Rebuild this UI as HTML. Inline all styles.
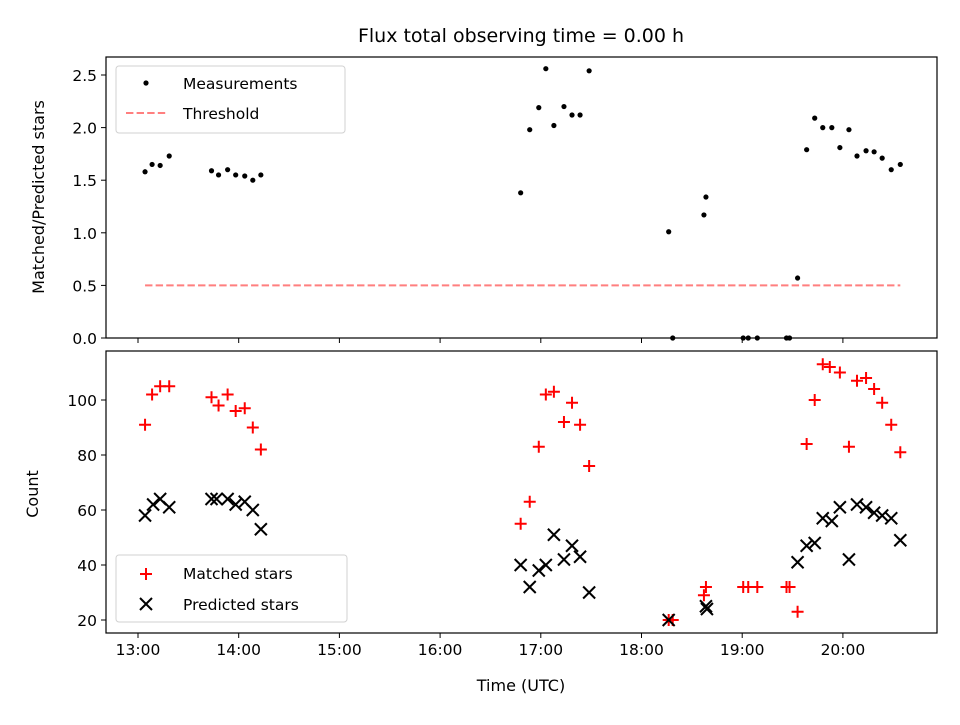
<!DOCTYPE html>
<html><head><meta charset="utf-8"><style>
body{margin:0;background:#fff}
svg{font-family:"DejaVu Sans","Liberation Sans",sans-serif}
</style></head><body>
<svg id="chart" width="960" height="720" viewBox="0 0 960 720">
<text x="521" y="42" font-size="19" text-anchor="middle">Flux total observing time = 0.00 h</text>
<g id="topPanel"></g>
<g id="botPanel"></g>
</svg>
<script>
const ratioTimes=[13.07,13.14,13.22,13.31,13.73,13.80,13.89,13.97,14.06,14.14,14.22,16.80,16.89,16.98,17.05,17.13,17.23,17.31,17.39,17.48,18.27,18.31,18.62,18.64,19.01,19.06,19.15,19.44,19.47,19.55,19.64,19.72,19.80,19.89,19.97,20.06,20.14,20.23,20.31,20.39,20.48,20.57];
const ratioValues=[1.58,1.65,1.64,1.73,1.59,1.55,1.60,1.55,1.54,1.50,1.55,1.38,1.98,2.19,2.56,2.02,2.20,2.12,2.12,2.54,1.01,0,1.17,1.34,0,0,0,0,0,0.57,1.79,2.09,2.0,2.0,1.81,1.98,1.73,1.78,1.77,1.71,1.60,1.65];
const threshold=0.5;
const matchedTimes=[13.07,13.14,13.22,13.31,13.73,13.80,13.89,13.97,14.06,14.14,14.22,16.80,16.89,16.98,17.05,17.13,17.23,17.31,17.39,17.48,18.27,18.31,18.62,18.64,19.01,19.06,19.15,19.44,19.47,19.55,19.64,19.72,19.80,19.87,19.97,20.06,20.14,20.23,20.31,20.39,20.48,20.57];
const matchedValues=[91,102,105,105,101,98,102,96,97,90,82,55,63,83,102,103,92,99,91,76,20,20,29,32,32,32,32,32,32,23,84,100,113,112,110,83,107,108,104,99,91,81];
const predictedTimes=[13.07,13.15,13.22,13.31,13.73,13.78,13.89,13.97,14.06,14.14,14.22,16.80,16.89,16.98,17.05,17.13,17.23,17.31,17.39,17.48,18.27,18.64,18.65,19.55,19.64,19.72,19.80,19.89,19.97,20.06,20.14,20.23,20.31,20.39,20.48,20.57];
const predictedValues=[58,62,64,61,64,64,64,62,63,60,53,40,32,38,40,51,42,47,43,30,20,25,24,41,47,48,57,56,61,42,62,61,59,58,57,49];
const xTicks=[13,14,15,16,17,18,19,20];
const xTickLabels=["13:00","14:00","15:00","16:00","17:00","18:00","19:00","20:00"];
const topTicks=[0,0.5,1,1.5,2,2.5];
const topTickLabels=["0.0","0.5","1.0","1.5","2.0","2.5"];
const botTicks=[20,40,60,80,100];

const NS="http://www.w3.org/2000/svg";
const L=106,R=937;
const T1=57,B1=338,T2=351,B2=633;
const xs=h=>138+(h-13)*100.7;
const y1=v=>338-v*105.2;
const y2=v=>620-(v-20)*2.75;
function mk(parent,tag,attrs){const e=document.createElementNS(NS,tag);for(const k in attrs)e.setAttribute(k,attrs[k]);parent.appendChild(e);return e;}
const topG=document.getElementById('topPanel'),botG=document.getElementById('botPanel');

for(let i=0;i<xTicks.length;i++){
  const x=xs(xTicks[i]);
  const t=mk(topG,'line',{x1:x,x2:x,y1:B1,y2:B1+5,stroke:'#000'});
  
  
  const t2=mk(botG,'line',{x1:x,x2:x,y1:B2,y2:B2+5,stroke:'#000'});
  
  
  const lb=mk(botG,'text',{x:x,y:B2+22,'font-size':15.5,'text-anchor':'middle'});
  lb.textContent=xTickLabels[i];
  
  
}
for(let i=0;i<topTicks.length;i++){
  const y=y1(topTicks[i]);
  mk(topG,'line',{x1:L-5,x2:L,y1:y,y2:y,stroke:'#000'});
  const lb=mk(topG,'text',{x:L-9,y:y+6,'font-size':15.5,'text-anchor':'end'});
  lb.textContent=topTickLabels[i];
  
  
}
for(let i=0;i<botTicks.length;i++){
  const y=y2(botTicks[i]);
  mk(botG,'line',{x1:L-5,x2:L,y1:y,y2:y,stroke:'#000'});
  const lb=mk(botG,'text',{x:L-9,y:y+6,'font-size':15.5,'text-anchor':'end'});
  lb.textContent=String(botTicks[i]);
  
  
}
const th=mk(topG,'line',{x1:xs(ratioTimes[0]),x2:xs(ratioTimes[ratioTimes.length-1]),y1:y1(threshold),y2:y1(threshold),stroke:'#ff7f7f','stroke-width':2,'stroke-dasharray':'7.4,3.2'});


for(let i=0;i<ratioTimes.length;i++){
  const c=mk(topG,'circle',{cx:xs(ratioTimes[i]),cy:y1(ratioValues[i]),r:2.6,fill:'#000'});
  
  
}
function plus(g,x,y,col){return mk(g,'path',{d:`M${x-6},${y}H${x+6}M${x},${y-6}V${y+6}`,stroke:col,'stroke-width':2});}
function cross(g,x,y){return mk(g,'path',{d:`M${x-6},${y-6}L${x+6},${y+6}M${x-6},${y+6}L${x+6},${y-6}`,stroke:'#000','stroke-width':2});}
for(let i=0;i<matchedTimes.length;i++){
  const p=plus(botG,xs(matchedTimes[i]),y2(matchedValues[i]),'#f00');
  
  
}
for(let i=0;i<predictedTimes.length;i++){
  const p=cross(botG,xs(predictedTimes[i]),y2(predictedValues[i]));
  
  
}
mk(topG,'rect',{x:L,y:T1,width:R-L,height:B1-T1,fill:'none',stroke:'#000','stroke-width':1.2});
mk(botG,'rect',{x:L,y:T2,width:R-L,height:B2-T2,fill:'none',stroke:'#000','stroke-width':1.2});
let a=mk(topG,'text',{x:44,y:197,'font-size':16,'text-anchor':'middle',transform:'rotate(-90 44 197)'});a.textContent='Matched/Predicted stars';

a=mk(botG,'text',{x:38,y:494,'font-size':16,'text-anchor':'middle',transform:'rotate(-90 38 494)'});a.textContent='Count';

a=mk(botG,'text',{x:521,y:691,'font-size':16,'text-anchor':'middle'});a.textContent='Time (UTC)';

let lg=mk(topG,'g',{});

mk(lg,'rect',{x:116,y:66,width:229,height:67,rx:3,fill:'#fff',stroke:'#ccc','stroke-opacity':0.9});
mk(lg,'circle',{cx:146,cy:83,r:2.6,fill:'#000'});
let t=mk(lg,'text',{x:183,y:89,'font-size':15.5});t.textContent='Measurements';
mk(lg,'line',{x1:126,x2:166,y1:113,y2:113,stroke:'#ff7f7f','stroke-width':2,'stroke-dasharray':'7.4,3.2'});
t=mk(lg,'text',{x:183,y:119,'font-size':15.5});t.textContent='Threshold';
lg=mk(botG,'g',{});

mk(lg,'rect',{x:116,y:555,width:231,height:67,rx:3,fill:'#fff',stroke:'#ccc','stroke-opacity':0.9});
plus(lg,146,574,'#f00');
t=mk(lg,'text',{x:183,y:579,'font-size':15.5});t.textContent='Matched stars';
cross(lg,146,604);
t=mk(lg,'text',{x:183,y:610,'font-size':15.5});t.textContent='Predicted stars';
</script>
</body></html>
